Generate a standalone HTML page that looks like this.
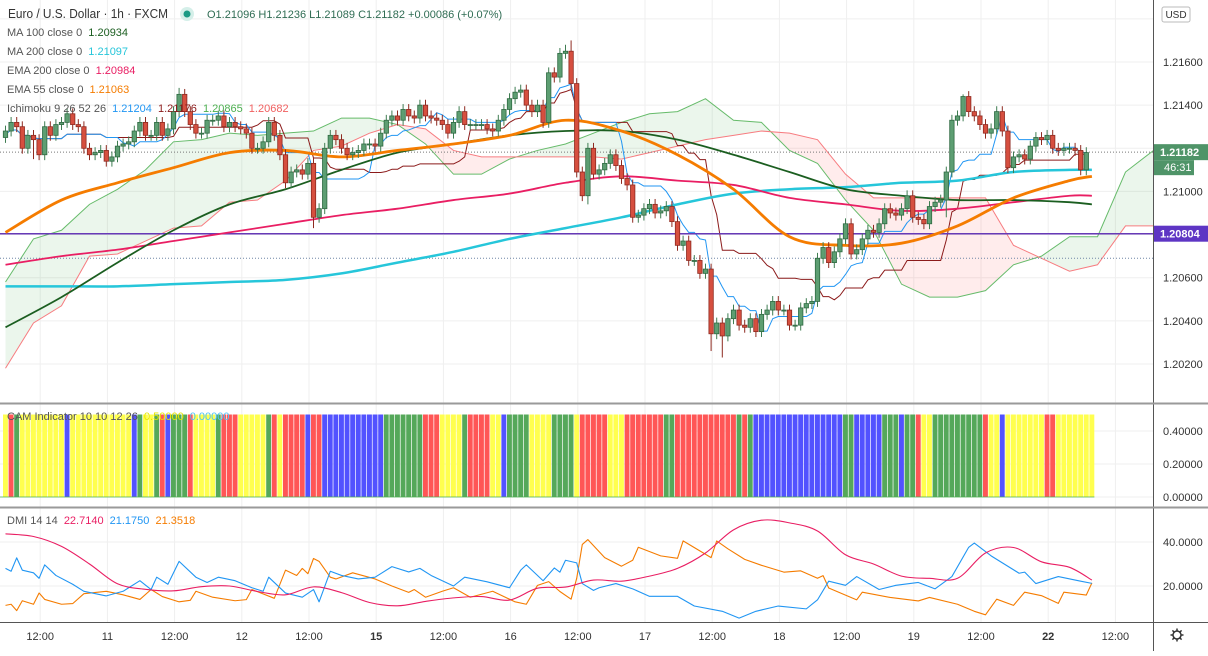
<!DOCTYPE html>
<html><head><meta charset="utf-8">
<style>
html,body{margin:0;padding:0;background:#fff;}
body{width:1208px;height:651px;overflow:hidden;font-family:"Liberation Sans",sans-serif;}
svg text{font-family:"Liberation Sans",sans-serif;}
</style></head>
<body>
<svg id="chart" width="1208" height="651" viewBox="0 0 1208 651" xmlns="http://www.w3.org/2000/svg">
  <rect x="0" y="0" width="1208" height="651" fill="#ffffff"/>
  <g id="grid"></g>
  <g id="cloud"></g>
  <g id="lines"></g>
  <g id="candles"></g>
  <g id="cam"></g>
  <g id="dmi"></g>
  <g id="axes"></g>
  <g id="legend">
    <text x="8" y="18" font-size="12.5" fill="#333" textLength="160" lengthAdjust="spacingAndGlyphs">Euro / U.S. Dollar · 1h · FXCM</text>
    <circle cx="187" cy="14" r="7" fill="#d5efe9"/>
    <circle cx="187" cy="14" r="3.5" fill="#1a9a84"/>
    <text x="207" y="18" font-size="11" fill="#2e6b52">O1.21096  H1.21236  L1.21089  C1.21182  +0.00086 (+0.07%)</text>
    <text x="7" y="36" font-size="11" fill="#555">MA 100 close 0 <tspan fill="#1b5e20" dx="3">1.20934</tspan></text>
    <text x="7" y="55" font-size="11" fill="#555">MA 200 close 0 <tspan fill="#26c6da" dx="3">1.21097</tspan></text>
    <text x="7" y="74" font-size="11" fill="#555">EMA 200 close 0 <tspan fill="#e91e63" dx="3">1.20984</tspan></text>
    <text x="7" y="93" font-size="11" fill="#555">EMA 55 close 0 <tspan fill="#f57c00" dx="3">1.21063</tspan></text>
    <text x="7" y="112" font-size="11" fill="#555">Ichimoku 9 26 52 26 <tspan fill="#2196f3" dx="3">1.21204</tspan> <tspan fill="#8b1a1a" dx="3">1.21176</tspan> <tspan fill="#4caf50" dx="3">1.20865</tspan> <tspan fill="#f06060" dx="3">1.20682</tspan></text>
    <text x="7" y="420" font-size="11" fill="#555">CAM Indicator 10 10 12 26 <tspan fill="#e6e600" dx="3">0.50000</tspan> <tspan fill="#4fc3f7" dx="3">0.00000</tspan></text>
    <text x="7" y="524" font-size="11" fill="#555">DMI 14 14 <tspan fill="#e91e63" dx="3">22.7140</tspan> <tspan fill="#2196f3" dx="3">21.1750</tspan> <tspan fill="#f57c00" dx="3">21.3518</tspan></text>
  </g>
</svg>
<script>
// ---------- data ----------
const closes = [1.2128,1.2132,1.2130,1.2120,1.2126,1.2124,1.2117,1.2130,1.2126,1.2131,
1.2132,1.2136,1.2131,1.2130,1.2120,1.2117,1.2118,1.2119,1.2114,1.2116,
1.2121,1.2122,1.2123,1.2128,1.2132,1.2126,1.2126,1.2132,1.2126,1.2129,
1.2137,1.2145,1.2137,1.2131,1.2127,1.2127,1.2133,1.2133,1.2135,1.2130,
1.2132,1.2130,1.2129,1.2127,1.2120,1.2120,1.2123,1.2132,1.2126,1.2117,
1.2104,1.2109,1.2110,1.2108,1.2113,1.2088,1.2092,1.2120,1.2126,1.2124,
1.2120,1.2117,1.2118,1.2119,1.2122,1.2122,
1.2121,1.2127,1.2133,1.2135,1.2133,1.2138,1.2135,1.2134,1.2140,1.2135,
1.2134,1.2133,1.2131,1.2127,1.2132,1.2137,1.2131,1.2131,1.2131,1.2131,
1.2129,1.2128,1.2133,1.2138,1.2143,1.2146,1.2147,1.2140,1.2137,1.2140,
1.2132,1.2155,1.2153,1.2164,1.2165,1.2150,1.2109,1.2098,1.2120,1.2108,
1.2110,1.2113,1.2117,1.2112,1.2106,1.2103,1.2088,1.2089,1.2092,1.2094,
1.2090,1.2091,1.2093,1.2086,1.2075,1.2077,1.2068,1.2068,1.2062,1.2064,
1.2034,1.2039,1.2033,1.2041,1.2045,
1.2038,1.2037,1.2041,1.2035,1.2043,1.2045,1.2049,1.2045,1.2045,
1.2038,1.2038,1.2046,1.2048,1.2049,1.2069,1.2074,1.2067,1.2072,1.2078,
1.2085,1.2071,1.2073,1.2078,1.2082,1.2081,1.2085,1.2092,1.2090,1.2089,
1.2092,1.2098,1.2088,1.2087,1.2085,1.2093,1.2095,1.2096,1.2109,1.2133,
1.2135,1.2144,1.2137,1.2135,1.2131,1.2127,1.2129,1.2137,1.2128,1.2111,
1.2116,1.2117,1.2115,1.2121,1.2125,1.2124,1.2126,1.2120,1.2119,1.2120,
1.2120,1.2119,1.2110,1.2118];
const firstOpen = 1.2125;
const spikeIdx = [5, 31, 55, 99, 100, 101, 102, 104, 128, 126, 168, 171];
const spikeHigh = [null, 1.2148, null, null, 1.2168, 1.2170, null, null, null, null, null, 1.2145];
const spikeLow  = [1.2115, null, 1.2083, null, null, null, null, 1.2094, 1.2023, 1.2026, 1.2088, null];

const maIdx = [0,10,20,30,40,50,60,70,80,90,100,110,120,130,140,150,160,170,180,190,194];
const ma200 = [1.2056,1.2056,1.2056,1.2057,1.2058,1.2059,1.2062,1.2067,1.2072,1.2078,1.2083,1.2088,1.2094,1.2099,1.2101,1.2102,1.2104,1.2105,1.2109,1.2110,1.2110];
const ma100 = [1.2037,1.2051,1.2067,1.2082,1.2094,1.2101,1.2110,1.2118,1.2122,1.2126,1.2128,1.2128,1.2124,1.2117,1.2109,1.2101,1.2098,1.2096,1.2096,1.2095,1.2094];
const ema200 = [1.2066,1.2070,1.2073,1.2077,1.2081,1.2085,1.2089,1.2092,1.2096,1.2099,1.2104,1.2107,1.2105,1.2103,1.2097,1.2094,1.2091,1.2092,1.2095,1.2098,1.2098];
const ema55 = [1.2081,1.2096,1.2104,1.2111,1.2118,1.2119,1.2116,1.2119,1.2122,1.2126,1.2133,1.2128,1.2117,1.2101,1.2079,1.2075,1.2076,1.2084,1.2097,1.2105,1.2107];

const cloudStep = 5;
const spanA = [1.2058,1.2078,1.2082,1.2094,1.2101,1.2110,1.2123,1.2124,1.2127,1.2126,1.2127,1.2128,1.2134,1.2134,1.2131,1.2122,1.2108,1.2108,1.2115,1.2119,1.2122,1.2127,1.2132,1.2136,1.2137,1.2143,1.2133,1.2132,1.2119,1.2113,1.2096,1.2082,1.2057,1.2051,1.2051,1.2054,1.2066,1.2070,1.2079,1.2079,1.2109,1.2119];
const spanB = [1.2018,1.2039,1.2047,1.2070,1.2071,1.2077,1.2083,1.2084,1.2095,1.2096,1.2105,1.2119,1.2121,1.2127,1.2131,1.2129,1.2119,1.2116,1.2116,1.2116,1.2116,1.2116,1.2115,1.2118,1.2121,1.2124,1.2126,1.2128,1.2127,1.2124,1.2108,1.2097,1.2097,1.2097,1.2097,1.2097,1.2075,1.2069,1.2063,1.2066,1.2084,1.2084];

const camColors = ['Y','R','G','Y','B','Y','B','G','Y','G','R','B','G','R','Y','G','R','Y','G','R','Y','R','B','R','B','G','R','Y','G','R','Y','B','G','Y','G','Y','R','Y','R','G','R','G','R','G','B','G','B','G','B','G','R','Y','G','R','Y','B','Y','R','Y'];
const camCounts = [1,1,1,8,1,11,1,1,2,1,1,1,3,1,4,1,3,5,1,1,1,4,1,2,11,7,3,4,1,4,2,1,4,4,4,1,5,3,7,2,11,1,1,1,16,2,5,3,1,2,1,2,9,1,2,1,7,2,7];

const adxIdx = [0,5,10,15,20,25,30,35,40,45,50,55,60,65,70,75,80,85,90,95,100,105,110,115,120,125,130,135,140,145,150,155,160,165,170,175,180,185,190,194];
const adxVals = [43.7,42.5,38,30,21,18.5,17.8,19.7,20,17.5,16,19.6,17,12.5,11,13,14.6,15.2,13.6,19,19.5,22.7,22.2,24.5,28,35,45.5,49.9,48.7,45,34.2,30,24.5,23.5,23.5,35,37.5,31,28.5,22.7];
const diPlusIdx = [0,1,2,3,5,6,7,9,12,14,18,21,24,26,27,29,31,34,36,38,41,44,46,47,50,53,55,56,58,60,63,66,69,72,74,76,80,82,86,90,92,93,96,98,99,100,102,103,105,106,109,112,115,120,123,128,131,134,138,143,145,147,150,152,156,159,163,166,169,172,173,176,181,182,184,188,192,194];
const diPlusVals = [28,26.7,32.8,27.2,26,23.5,29.6,24.8,20.8,17.6,15.5,17.6,22.4,18.4,24,20.8,31.2,24,21.6,24,22.4,19.2,17.6,24,16.8,14.9,18.4,12.8,26.7,24.8,23.2,24,28.8,26.4,28,24.8,20,24,21.9,19.2,27.2,29.6,22.4,28.2,26.3,31.7,30.5,21.1,18,19.2,21.1,18.7,15.3,15.3,10.9,8.5,5.4,8.5,10.9,9.6,13.7,22.2,20.3,24.3,18.4,20.3,21.6,18.7,24.3,37.6,39.5,33.7,25.8,26.3,21.1,24.3,22.2,21.2];
const diMinusIdx = [0,1,2,3,5,6,7,10,12,14,18,21,24,26,28,31,33,34,37,41,43,44,48,50,52,53,54,55,56,58,59,62,66,69,72,73,75,78,80,83,87,91,93,95,97,99,101,102,103,104,107,110,112,113,117,120,121,126,127,129,132,135,139,142,145,146,147,152,153,158,163,165,170,173,175,177,180,182,185,188,189,193,194];
const diMinusVals = [11.2,11.7,8.8,13.3,11.7,16.8,13.9,11.7,12,16.5,17.6,16,13.9,18.4,15.2,12.8,13.5,17.6,14.9,13.3,13.8,18.4,14.4,27.2,24.8,28,25.6,32.5,31.2,24,23.2,26,23.2,20,17.1,18.4,14.9,17.6,19.2,14.9,17.6,12.8,11.7,20.3,22,17.5,14,23.5,38.9,41.1,32.9,29,31.7,37.6,33.7,32.6,40.5,32.9,40.5,36.9,32.1,29.4,26.3,26.9,23.5,24.7,19.1,13.7,17.2,14.8,13.2,14.8,11.7,8.5,6.9,14,11.2,17.2,15.6,12.1,17.2,15.9,21.4];

const priceTicks = [1.2160,1.2140,1.2100,1.2060,1.2040,1.2020];
const priceGrid = [1.2180,1.2160,1.2140,1.2120,1.2100,1.2080,1.2060,1.2040,1.2020];
const timeLabels = ['12:00','11','12:00','12','12:00','15','12:00','16','12:00','17','12:00','18','12:00','19','12:00','22','12:00'];
const boldLabels = ['15','22'];
const camTicks = [0.4,0.2,0];
const dmiTicks = [40,20];
const lastPrice = 1.21182;
const hLine = 1.20804;
const dottedLevel = 1.2069;

// ---------- scales ----------
const NS='http://www.w3.org/2000/svg';
const PLOT_R = 1153;
const xOf = i => 5.5 + i*5.6;
const yP = p => 62 + (1.2160 - p)*21570;
const yCam = v => 497 - v*165;
const yDmi = v => 630 - v*2.2;
function mk(tag, attrs, parent){const e=document.createElementNS(NS,tag);for(const k in attrs)e.setAttribute(k,attrs[k]);parent.appendChild(e);return e;}
const G = id => document.getElementById(id);

const defs = mk('defs',{},G('chart'));
const cp = mk('clipPath',{id:'mainClip'},defs); mk('rect',{x:0,y:0,width:PLOT_R,height:403},cp);
const cp2 = mk('clipPath',{id:'dmiClip'},defs); mk('rect',{x:0,y:508,width:PLOT_R,height:114},cp2);
G('cloud').setAttribute('clip-path','url(#mainClip)');
G('lines').setAttribute('clip-path','url(#mainClip)');
G('dmi').setAttribute('clip-path','url(#dmiClip)');

// ---------- grid ----------
const grid=G('grid');
priceGrid.forEach(p=>{const y=yP(p);if(y>0&&y<403){const l=mk('line',{x1:0,x2:PLOT_R,y1:y,y2:y,stroke:'#efefef','stroke-width':1},grid);

}});
timeLabels.forEach((t,k)=>{const x=40.2+67.2*k;const l=mk('line',{x1:x,x2:x,y1:0,y2:622,stroke:'#efefef','stroke-width':1},grid);

});
camTicks.forEach(v=>{mk('line',{x1:0,x2:PLOT_R,y1:yCam(v),y2:yCam(v),stroke:'#efefef'},grid);});
dmiTicks.forEach(v=>{mk('line',{x1:0,x2:PLOT_R,y1:yDmi(v),y2:yDmi(v),stroke:'#efefef'},grid);});

// ---------- cloud ----------
const cloud=G('cloud');
for(let k=0;k<spanA.length-1;k++){
  const x0=xOf(k*cloudStep), x1=xOf((k+1)*cloudStep);
  const a0=spanA[k],a1=spanA[k+1],b0=spanB[k],b1=spanB[k+1];
  const d0=a0-b0,d1=a1-b1;
  const col=d=> d>=0?'rgba(76,175,80,0.11)':'rgba(255,82,82,0.11)';
  if(d0*d1<0){
    const t=d0/(d0-d1); const xc=x0+(x1-x0)*t; const yc=yP(a0+(a1-a0)*t);
    mk('polygon',{points:`${x0},${yP(a0)} ${xc},${yc} ${x0},${yP(b0)}`,fill:col(d0)},cloud);
    mk('polygon',{points:`${xc},${yc} ${x1},${yP(a1)} ${x1},${yP(b1)}`,fill:col(d1)},cloud);
  } else {
    mk('polygon',{points:`${x0},${yP(a0)} ${x1},${yP(a1)} ${x1},${yP(b1)} ${x0},${yP(b0)}`,fill:col(d0+d1)},cloud);
  }
}
function polyPts(idx,vals,yf){return idx.map((i,k)=>[xOf(i),yf(vals[k])]);}
function smoothPath(pts){let d=`M${pts[0][0]},${pts[0][1]}`;for(let i=0;i<pts.length-1;i++){const p0=pts[i-1]||pts[i],p1=pts[i],p2=pts[i+1],p3=pts[i+2]||p2;
 const c1=[p1[0]+(p2[0]-p0[0])/6,p1[1]+(p2[1]-p0[1])/6],c2=[p2[0]-(p3[0]-p1[0])/6,p2[1]-(p3[1]-p1[1])/6];
 d+=` C${c1[0]},${c1[1]} ${c2[0]},${c2[1]} ${p2[0]},${p2[1]}`;}return d;}
const cIdx=spanA.map((_,k)=>k*cloudStep);
const sa=mk('polyline',{points:polyPts(cIdx,spanA,yP).join(' '),fill:'none',stroke:'#66bb6a','stroke-width':1},cloud);


const sb=mk('polyline',{points:polyPts(cIdx,spanB,yP).join(' '),fill:'none',stroke:'#f77c80','stroke-width':1},cloud);



// ---------- candles (OHLC) ----------
const opens=closes.map((c,i)=>i?closes[i-1]:firstOpen);
const highs=closes.map((c,i)=>Math.max(c,opens[i])+0.00025);
const lows=closes.map((c,i)=>Math.min(c,opens[i])-0.00025);
spikeIdx.forEach((i,k)=>{if(spikeHigh[k]!==null)highs[i]=spikeHigh[k];if(spikeLow[k]!==null)lows[i]=spikeLow[k];});

function mid(i,n){let h=-1,l=9;for(let j=Math.max(0,i-n+1);j<=i;j++){h=Math.max(h,highs[j]);l=Math.min(l,lows[j]);}return (h+l)/2;}
const tenkan=closes.map((_,i)=>mid(i,9)), kijun=closes.map((_,i)=>mid(i,26));
const lines=G('lines');
function addLine(pts,color,w,name,smooth){
  const e=mk('path',{d:smooth?smoothPath(pts):'M'+pts.map(p=>p.join(',')).join(' L'),fill:'none',stroke:color,'stroke-width':w,'stroke-linejoin':'round'},lines);
  
  
}
const allIdx=closes.map((_,i)=>i);
addLine(polyPts(allIdx,kijun,yP),'#8b1a1a',1,'kijun-line',false);
addLine(polyPts(allIdx,tenkan,yP),'#2196f3',1,'tenkan-line',false);
const hl=mk('line',{x1:0,x2:PLOT_R,y1:yP(hLine),y2:yP(hLine),stroke:'#673ab7','stroke-width':1.5},lines);


mk('line',{x1:0,x2:PLOT_R,y1:yP(dottedLevel),y2:yP(dottedLevel),stroke:'#6f86a6','stroke-width':1,'stroke-dasharray':'1,2'},lines);
mk('line',{x1:0,x2:PLOT_R,y1:yP(lastPrice),y2:yP(lastPrice),stroke:'#777','stroke-width':1,'stroke-dasharray':'1,2'},lines);
addLine(polyPts(maIdx,ma200,yP),'#26c6da',2.5,'ma200-line',true);
addLine(polyPts(maIdx,ema200,yP),'#e91e63',1.8,'ema200-line',true);
addLine(polyPts(maIdx,ma100,yP),'#1b5e20',1.8,'ma100-line',true);
addLine(polyPts(maIdx,ema55,yP),'#f57c00',2.8,'ema55-line',true);

const cg=G('candles');
closes.forEach((c,i)=>{
  const o=opens[i],up=c>=o,x=xOf(i);
  const g=mk('g',{},cg);
  
  
  mk('line',{x1:x,x2:x,y1:yP(highs[i]),y2:yP(lows[i]),stroke:up?'#3f7d52':'#8e2a20','stroke-width':1},g);
  const yt=yP(Math.max(o,c)),yb=yP(Math.min(o,c));
  mk('rect',{x:x-2.2,y:yt,width:4.4,height:Math.max(1,yb-yt),fill:up?'#5d9e72':'#d64f3f',stroke:up?'#2f6a42':'#8e2a20','stroke-width':0.8},g);
});

// ---------- CAM ----------
const cam=G('cam');
const camMap={Y:'#ffff4f',R:'#ff5656',G:'#55a85a',B:'#5252ff'};
let bi=0;
camColors.forEach((c,k)=>{for(let n=0;n<camCounts[k];n++){const x=xOf(bi);
  const r=mk('rect',{x:x-2.5,y:yCam(0.5),width:4.9,height:yCam(0)-yCam(0.5),fill:camMap[c]},cam);
  
  
  bi++;}});
mk('line',{x1:0,x2:xOf(bi-1)+2.5,y1:yCam(0),y2:yCam(0),stroke:'#4caf50','stroke-width':0.8},cam);

// ---------- DMI ----------
const dmi=G('dmi');
function dmiLine(idx,vals,color,name){const e=mk('polyline',{points:polyPts(idx,vals,yDmi).join(' '),fill:'none',stroke:color,'stroke-width':1.1,'stroke-linejoin':'round'},dmi);
 
 }
dmiLine(diMinusIdx,diMinusVals,'#f57c00','dmi-minus-line');
dmiLine(diPlusIdx,diPlusVals,'#2196f3','dmi-plus-line');
const adxPts=polyPts(adxIdx,adxVals,yDmi);
const ad=mk('path',{d:smoothPath(adxPts),fill:'none',stroke:'#e91e63','stroke-width':1.1},dmi);



// ---------- axes ----------
const ax=G('axes');
mk('line',{x1:PLOT_R+0.5,x2:PLOT_R+0.5,y1:0,y2:651,stroke:'#555','stroke-width':1},ax);
mk('line',{x1:0,x2:1208,y1:403.5,y2:403.5,stroke:'#9a9a9a','stroke-width':2},ax);
mk('line',{x1:0,x2:1208,y1:507.5,y2:507.5,stroke:'#9a9a9a','stroke-width':2},ax);
mk('line',{x1:0,x2:1208,y1:622.5,y2:622.5,stroke:'#555','stroke-width':1},ax);
priceTicks.forEach(p=>{const t=mk('text',{x:1163,y:yP(p)+4,'font-size':11,fill:'#333'},ax);t.textContent=p.toFixed(5);
 
 });
camTicks.forEach(v=>{const t=mk('text',{x:1163,y:yCam(v)+4,'font-size':11,fill:'#333'},ax);t.textContent=v.toFixed(5);
 
 });
dmiTicks.forEach(v=>{const t=mk('text',{x:1163,y:yDmi(v)+4,'font-size':11,fill:'#333'},ax);t.textContent=v.toFixed(4);
 
 });
timeLabels.forEach((s,k)=>{const t=mk('text',{x:40.2+67.2*k,y:640,'font-size':11,fill:'#333','text-anchor':'middle','font-weight':boldLabels.includes(s)?'bold':'normal'},ax);t.textContent=s;
 
 });
const usd=mk('rect',{x:1162,y:7,width:28,height:15,fill:'#fff',stroke:'#bbb',rx:2},ax);


const ut=mk('text',{x:1176,y:18,'font-size':10,fill:'#333','text-anchor':'middle'},ax);ut.textContent='USD';
const lp=mk('rect',{x:1154,y:yP(lastPrice)-8,width:54,height:16,fill:'#4f9468'},ax);


const lpt=mk('text',{x:1160,y:yP(lastPrice)+4,'font-size':11,fill:'#fff','font-weight':'bold'},ax);lpt.textContent=lastPrice.toFixed(5);
const cd=mk('rect',{x:1154,y:yP(lastPrice)+8,width:40,height:15,fill:'#4f9468'},ax);


const cdt=mk('text',{x:1164,y:yP(lastPrice)+19,'font-size':11,fill:'#fff'},ax);cdt.textContent='46:31';
const hlb=mk('rect',{x:1154,y:yP(hLine)-8,width:54,height:16,fill:'#5e35c4'},ax);


const hlt=mk('text',{x:1160,y:yP(hLine)+4,'font-size':11,fill:'#fff','font-weight':'bold'},ax);hlt.textContent=hLine.toFixed(5);
const gear=mk('g',{},ax);


mk('circle',{cx:1177,cy:635,r:4,fill:'none',stroke:'#333','stroke-width':1.5},gear);
for(let a=0;a<8;a++){const r=a*Math.PI/4;mk('line',{x1:1177+Math.cos(r)*4,y1:635+Math.sin(r)*4,x2:1177+Math.cos(r)*6.5,y2:635+Math.sin(r)*6.5,stroke:'#333','stroke-width':1.5},gear);}
</script>
</body></html>
